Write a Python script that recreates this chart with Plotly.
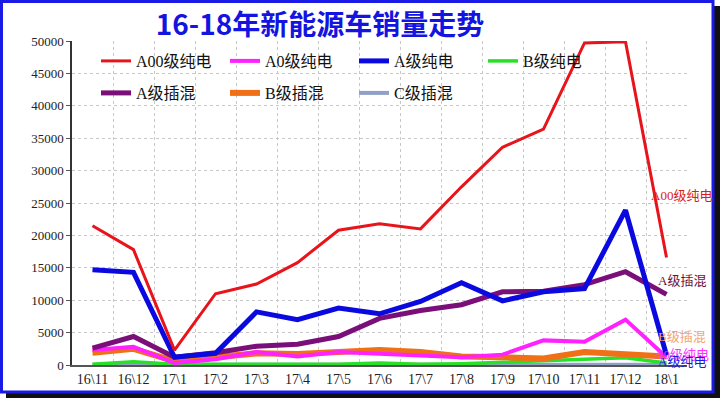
import plotly.graph_objects as go

months = ["16\\11", "16\\12", "17\\1", "17\\2", "17\\3", "17\\4", "17\\5", "17\\6",
          "17\\7", "17\\8", "17\\9", "17\\10", "17\\11", "17\\12", "18\\1"]

a00_bev = [21500, 17800, 2300, 11000, 12500, 15800, 20800, 21800, 21000, 27500, 33600, 36400, 49700, 49900, 16600]
a0_bev = [2300, 2800, 300, 900, 2000, 1300, 2000, 1700, 1500, 1200, 1600, 3800, 3600, 7000, 1200]
a_bev = [14700, 14300, 1200, 1800, 8200, 7000, 8800, 7900, 9800, 12700, 9900, 11300, 11800, 23900, 1500]
b_bev = [100, 500, 100, 100, 200, 100, 100, 300, 100, 200, 400, 600, 900, 1100, 300]
a_phev = [2600, 4400, 1200, 1900, 2900, 3200, 4400, 7200, 8400, 9300, 11300, 11400, 12400, 14400, 10900]
b_phev = [1900, 2500, 600, 1300, 1800, 1700, 1900, 2300, 2000, 1300, 1200, 1000, 2000, 1700, 1300]
c_phev = [50, 50, 50, 50, 50, 50, 50, 50, 50, 100, 100, 100, 50, 50, 50]

y_ticks = [0, 5000, 10000, 15000, 20000, 25000, 30000, 35000, 40000, 45000, 50000]

names = ["A00级纯电", "A0级纯电", "A级纯电", "B级纯电", "A级插混", "B级插混", "C级插混"]
series = [a00_bev, a0_bev, a_bev, b_bev, a_phev, b_phev, c_phev]
colors = ["#e8141b", "#ff22ff", "#0a0ae0", "#28e028", "#7a0f7a", "#f07018", "#90a0c8"]
widths = [3, 4, 5, 3.5, 5, 6, 4]
legends = ["legend", "legend", "legend", "legend", "legend2", "legend2", "legend2"]

FONT = "Liberation Serif, Noto Sans CJK SC, serif"

fig = go.Figure()
order = [6, 3, 5, 1, 4, 2, 0]
for i in order:
    fig.add_trace(go.Scatter(
        x=months, y=series[i], mode="lines", name=names[i],
        line=dict(color=colors[i], width=widths[i]),
        legend=legends[i], legendrank=i,
    ))

labels = [
    ("A00级纯电", a00_bev, "#d8201c", 62),
    ("A级插混", a_phev, "#6a0f3a", 14),
    ("B级插混", b_phev, "#f4a46a", 20),
    ("A0级纯电", a0_bev, "#ff30ff", 3),
    ("A级纯电", a_bev, "#1a1ae0", -6),
]
for txt, ser, col, ys in labels:
    fig.add_annotation(x=months[-1], y=ser[-1], text=txt, showarrow=False,
                       xanchor="center", yanchor="middle", xshift=15, yshift=ys,
                       font=dict(family=FONT, size=13, color=col))

L, R, T, B = 72, 687, 41, 365
W, H = 720, 398
def px(x):
    return (x - L) / (R - L)
def py(y):
    return (B - y) / (B - T)

shapes = [
    dict(type="rect", xref="paper", yref="paper", x0=px(713), x1=px(720), y0=py(6), y1=py(398),
         fillcolor="#111111", line=dict(width=0), layer="above"),
    dict(type="rect", xref="paper", yref="paper", x0=px(6), x1=px(720), y0=py(392), y1=py(398),
         fillcolor="#111111", line=dict(width=0), layer="above"),
    dict(type="rect", xref="paper", yref="paper", x0=px(1.5), x1=px(713), y0=py(1.5), y1=py(392),
         line=dict(color="#1a1ae6", width=3), layer="above"),
]

fig.update_layout(
    width=W, height=H,
    margin=dict(l=L, r=W - R, t=T, b=H - B),
    paper_bgcolor="white", plot_bgcolor="white",
    shapes=shapes,
    title=dict(text="<b>16-18年新能源车销量走势</b>", x=320 / W, xanchor="center",
               y=1 - 25 / H, yanchor="middle", yref="container",
               font=dict(family="Noto Sans CJK SC", size=28, color="#1414e0")),
    font=dict(family=FONT, size=13, color="#222222"),
    legend=dict(orientation="h", x=px(96), y=py(61), xanchor="left", yanchor="middle",
                entrywidth=84, entrywidthmode="pixels", bgcolor="rgba(255,255,255,0)",
                font=dict(family=FONT, size=16, color="#111111"), traceorder="normal"),
    legend2=dict(orientation="h", x=px(96), y=py(93), xanchor="left", yanchor="middle",
                 entrywidth=84, entrywidthmode="pixels", bgcolor="rgba(255,255,255,0)",
                 font=dict(family=FONT, size=16, color="#111111"), traceorder="normal"),
    showlegend=True,
)
fig.update_xaxes(type="category", tickson="boundaries", range=[-0.5, 14.5],
                 showgrid=True, gridcolor="#c8c8c8", griddash="dot", gridwidth=1,
                 showline=True, linecolor="#555555", linewidth=2,
                 ticks="", tickfont=dict(family=FONT, size=14, color="#222222"))
fig.update_yaxes(range=[0, 50000], tickvals=y_ticks, ticktext=[str(v) for v in y_ticks],
                 showgrid=True, gridcolor="#c8c8c8", griddash="dot", gridwidth=1,
                 showline=True, linecolor="#333333", linewidth=1.5,
                 ticks="outside", ticklen=4, tickcolor="#555555", zeroline=False,
                 tickfont=dict(family=FONT, size=13, color="#222222"))

fig.write_html("out.html", config={"displayModeBar": False},
               post_script="document.body.style.margin='0';document.body.style.padding='0';")
